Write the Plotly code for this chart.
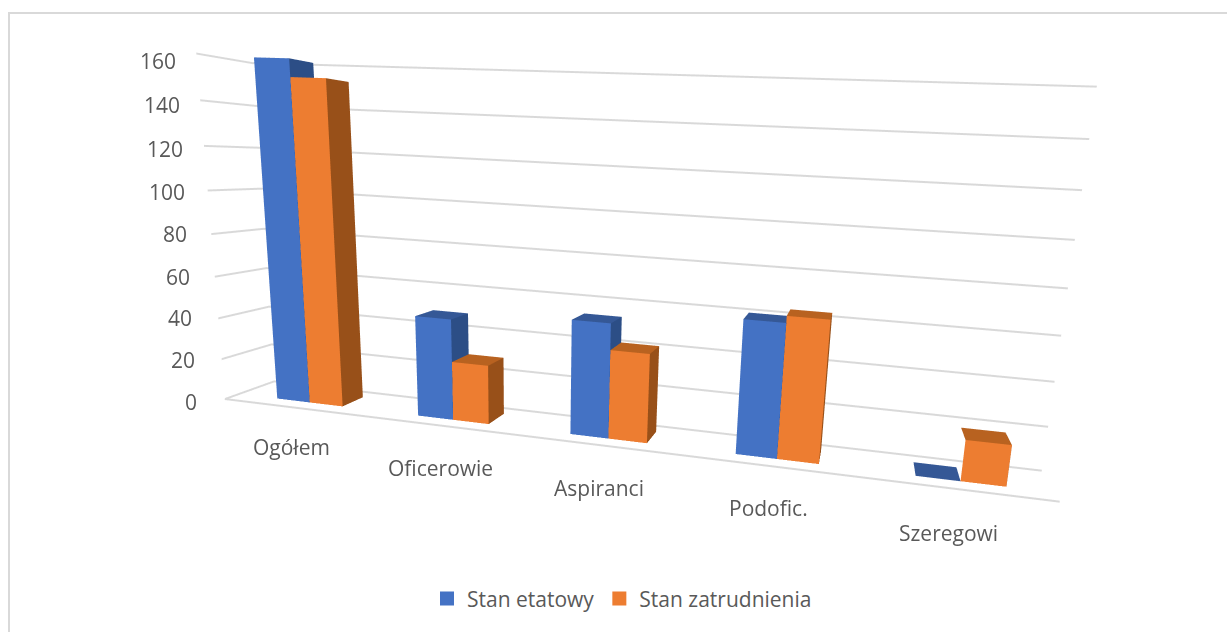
import plotly.graph_objects as go

categories = ["Ogółem", "Oficerowie", "Aspiranci", "Podofic.", "Szeregowi"]
stan_etatowy = [160, 48, 53, 60, 0]
stan_zatrudnienia = [152, 28, 41, 63, 18]
z_ticks = [0, 20, 40, 60, 80, 100, 120, 140, 160]

W, H = 1227, 632
BAR_START, BAR_WIDTH = 0.2848, 0.2367
BAR_FRONT, BAR_BACK = 0.2717, 0.7517
Z_SHIFTS = [(-25.9, -3.0), (-24.6, -0.8), (-24.3, 0.4), (-23.0, -0.3), (-22.0, 0.1),
            (-20.7, -1.5), (-19.0, -3.1), (-18.4, -5.0), (-18.8, -7.5)]
CAT_SHIFTS = [(-1.8, -39.5), (1.1, -42.5), (0.7, -43.1), (-2.6, -41.9), (-10.8, -43.7)]


def bars(values, slot, colors, name):
    xs, ys, zs, I, J, K, fc = [], [], [], [], [], [], []
    front, side, top = colors
    for n, v in enumerate(values):
        a = n + BAR_START + slot * BAR_WIDTH
        b = a + BAR_WIDTH
        base = len(xs)
        for zz in (0, v):
            for (xx, yy) in ((a, BAR_FRONT), (b, BAR_FRONT), (b, BAR_BACK), (a, BAR_BACK)):
                xs.append(xx); ys.append(yy); zs.append(zz)
        quads = [((0, 1, 5, 4), front), ((1, 2, 6, 5), side), ((4, 5, 6, 7), top)]
        for q, col in quads:
            I += [base + q[0], base + q[0]]
            J += [base + q[1], base + q[2]]
            K += [base + q[2], base + q[3]]
            fc += [col, col]
    return go.Mesh3d(x=xs, y=ys, z=zs, i=I, j=J, k=K, facecolor=fc, flatshading=True,
                     lighting=dict(ambient=1, diffuse=0, specular=0, roughness=1, fresnel=0),
                     name=name, showlegend=False, legendgroup=name, hoverinfo="skip", showscale=False)


def swatch(name, color):
    return go.Scatter3d(x=[None], y=[None], z=[None], mode="markers", name=name, legendgroup=name,
                        marker=dict(symbol="square", size=14, color=color, line=dict(width=0)))


COL_B = "#4472C4"
COL_O = "#ED7D31"
fig = go.Figure([
    bars(stan_etatowy, 0, (COL_B, "#2C4E86", "#355896"), "Stan etatowy"),
    bars(stan_zatrudnienia, 1, (COL_O, "#985019", "#B86220"), "Stan zatrudnienia"),
    swatch("Stan etatowy", COL_B),
    swatch("Stan zatrudnienia", COL_O),
])
FONT = dict(family="Open Sans, Noto Sans, sans-serif", size=21, color="#595959")
GRID = "#d9d9d9"
notes = [dict(x=0, y=0, z=t, text=str(t), showarrow=False, xanchor="right", yanchor="middle",
              xshift=Z_SHIFTS[n][0], yshift=Z_SHIFTS[n][1], font=FONT) for n, t in enumerate(z_ticks)]
notes += [dict(x=i + 0.5, y=0, z=0, text=c, showarrow=False, xanchor="center", yanchor="middle",
               xshift=CAT_SHIFTS[i][0], yshift=CAT_SHIFTS[i][1], font=FONT) for i, c in enumerate(categories)]
fig.update_layout(
    width=W, height=H, margin=dict(l=0, r=0, t=0, b=0), paper_bgcolor="white",
    showlegend=True,
    legend=dict(orientation="h", x=427 / W, xanchor="left", y=0.02, yanchor="bottom", font=FONT),
    scene=dict(
        domain=dict(x=[195 / W, 1], y=[0, 1]),
        aspectmode="manual",
        aspectratio=dict(x=2.2710, y=0.1902, z=0.9547),
        camera=dict(eye=dict(x=0.6303, y=-1.8955, z=0.2656),
                    center=dict(x=0.2012, y=0.3317, z=-0.1961),
                    up=dict(x=-0.0304, y=-0.0912, z=1)),
        annotations=notes,
        xaxis=dict(range=[0, 5], tickvals=[], showticklabels=False,
                   showgrid=False, showline=True, linecolor=GRID, linewidth=4, zeroline=False,
                   showbackground=False, title="", ticks="", showspikes=False),
        yaxis=dict(range=[0, 1], showgrid=False, showline=False, zeroline=False, showticklabels=False,
                   showbackground=False, title="", ticks="", showspikes=False),
        zaxis=dict(range=[0, 160], tickvals=z_ticks, showgrid=True, gridcolor=GRID, gridwidth=4,
                   showline=False, zeroline=False, showbackground=False, title="", showticklabels=False,
                   ticks="", showspikes=False),
    ),
    shapes=[dict(type="rect", xref="paper", yref="paper", x0=9 / W, x1=1.01, y0=-0.01, y1=1 - 13 / H,
                 line=dict(color=GRID, width=2), fillcolor="rgba(0,0,0,0)")],
)
fig.write_html("out.html", config=dict(displayModeBar=False), post_script="document.body.style.margin='0';")
